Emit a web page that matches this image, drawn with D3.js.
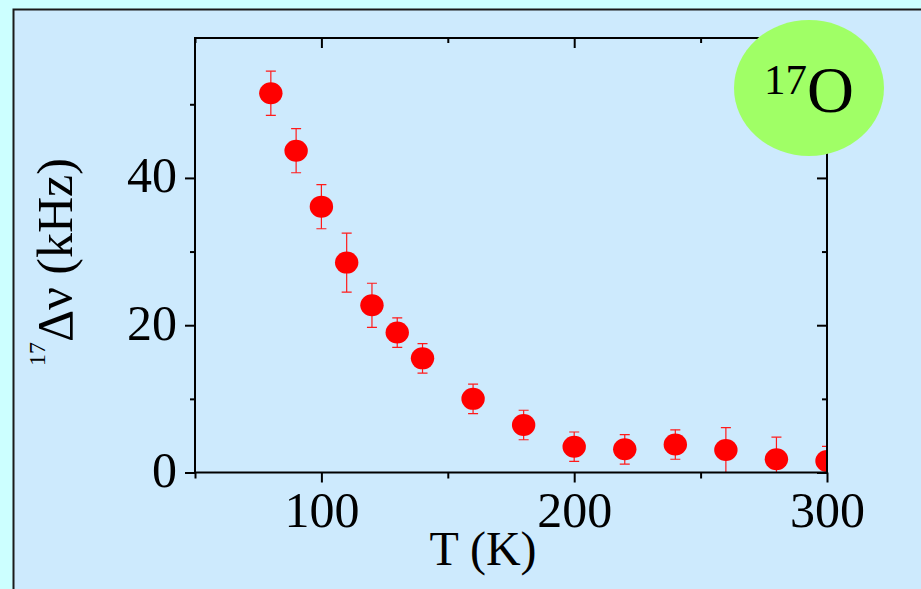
<!DOCTYPE html>
<html>
<head>
<meta charset="utf-8">
<script src="https://cdn.jsdelivr.net/npm/d3@7/dist/d3.min.js"></script>
<style>
  html, body { margin: 0; padding: 0; background: #ccffff; }
  svg { display: block; }
  text { font-family: "Liberation Serif", "Times New Roman", serif; fill: #000; }
</style>
</head>
<body>
<svg id="chart" width="921" height="589"></svg>
<script>
// 17O NMR line width versus temperature
const temperatures = [80, 90, 100, 110, 120, 130, 140, 160, 180, 200, 220, 240, 260, 280, 300];
const widths       = [51.5, 43.7, 36.1, 28.5, 22.7, 19.0, 15.5, 10.0, 6.45, 3.5, 3.15, 3.8, 3.05, 1.8, 1.55];
const errors       = [3.0, 3.0, 3.0, 4.0, 3.0, 2.0, 2.0, 2.0, 2.0, 2.0, 2.0, 2.0, 3.05, 3.0, 2.0];

const xMajorTicks = [100, 200, 300];
const xMinorTicks = [50, 150, 250];
const yMajorTicks = [0, 20, 40];
const yMinorTicks = [10, 30, 50];

const svg = d3.select("#chart");
const W = 921, H = 589;

// panel
svg.append("rect").attr("x", 0).attr("y", 0).attr("width", W).attr("height", H).attr("fill", "#ccffff");
svg.append("rect")
  .attr("x", 13.5).attr("y", 9.5).attr("width", W + 20).attr("height", H + 20)
  .attr("fill", "#cdeafd").attr("stroke", "#1a1a1a").attr("stroke-width", 2);

const plot = { left: 195, right: 827, top: 38, bottom: 472.5 };

const x = d3.scaleLinear().domain([50, 300]).range([plot.left, plot.right]);
const y = d3.scaleLinear().domain([0, 59]).range([plot.bottom, plot.top]);

const data = temperatures.map((t, i) => ({ t, v: widths[i], e: errors[i] }));

// clip marks to the frame
svg.append("clipPath").attr("id", "plotClip")
  .append("rect")
  .attr("x", plot.left).attr("y", plot.top)
  .attr("width", plot.right - plot.left).attr("height", plot.bottom - plot.top);

const marks = svg.append("g").attr("clip-path", "url(#plotClip)");

// error bars
const bars = marks.append("g").attr("stroke", "#ff1a1a").attr("stroke-width", 1.2).attr("fill", "none");
data.forEach(d => {
  const xp = x(d.t), y1 = y(d.v + d.e), y0 = y(Math.max(0, d.v - d.e));
  bars.append("line").attr("x1", xp).attr("x2", xp).attr("y1", y1).attr("y2", y0);
  bars.append("line").attr("x1", xp - 5).attr("x2", xp + 5).attr("y1", y1).attr("y2", y1);
  if (d.v - d.e >= 0) {
    bars.append("line").attr("x1", xp - 5).attr("x2", xp + 5).attr("y1", y0).attr("y2", y0);
  }
});

// markers
marks.append("g").selectAll("ellipse").data(data).join("ellipse")
  .attr("cx", d => x(d.t)).attr("cy", d => y(d.v))
  .attr("rx", 11.7).attr("ry", 11)
  .attr("fill", "#ff0000");

// axes
const axisG = svg.append("g").attr("stroke", "#000").attr("stroke-width", 2);
axisG.append("rect")
  .attr("x", plot.left).attr("y", plot.top)
  .attr("width", plot.right - plot.left).attr("height", plot.bottom - plot.top)
  .attr("fill", "none");

const bottomAxis = d3.axisBottom(x).tickValues(xMajorTicks).tickSize(10).tickFormat(d3.format("d"));
const bottomMinor = d3.axisBottom(x).tickValues(xMinorTicks).tickSize(6).tickFormat("");
const topMajor = d3.axisTop(x).tickValues(xMajorTicks).tickSize(-10).tickFormat("");
const topMinor = d3.axisTop(x).tickValues(xMinorTicks).tickSize(-5).tickFormat("");
const leftAxis = d3.axisLeft(y).tickValues(yMajorTicks).tickSize(10).tickFormat(d3.format("d"));
const leftMinor = d3.axisLeft(y).tickValues(yMinorTicks).tickSize(5).tickFormat("");
const rightMajor = d3.axisRight(y).tickValues(yMajorTicks).tickSize(-10).tickFormat("");
const rightMinor = d3.axisRight(y).tickValues(yMinorTicks).tickSize(-5).tickFormat("");

function styleAxis(g) {
  g.select(".domain").remove();
  g.selectAll(".tick line").attr("stroke", "#000").attr("stroke-width", 2);
  g.selectAll(".tick text").attr("font-family", "Liberation Serif, serif").attr("font-size", 50).attr("fill", "#000");
}

svg.append("g").attr("transform", `translate(0,${plot.bottom})`).call(bottomAxis).call(styleAxis)
  .selectAll(".tick text").attr("y", 19).attr("dy", "0.71em");
svg.append("g").attr("transform", `translate(0,${plot.bottom})`).call(bottomMinor).call(styleAxis);
svg.append("g").attr("transform", `translate(0,${plot.top})`).call(topMajor).call(styleAxis);
svg.append("g").attr("transform", `translate(0,${plot.top})`).call(topMinor).call(styleAxis);
svg.append("g").attr("transform", `translate(${plot.left},0)`).call(leftAxis).call(styleAxis)
  .selectAll(".tick text").attr("x", -18).attr("dy", "0.28em");
svg.append("g").attr("transform", `translate(${plot.left},0)`).call(leftMinor).call(styleAxis);
svg.append("g").attr("transform", `translate(${plot.right},0)`).call(rightMajor).call(styleAxis);
svg.append("g").attr("transform", `translate(${plot.right},0)`).call(rightMinor).call(styleAxis);

// axis titles
svg.append("text")
  .attr("x", 483).attr("y", 565)
  .attr("text-anchor", "middle")
  .attr("font-size", 48)
  .text("T (K)");

const yTitle = svg.append("text")
  .attr("transform", "translate(72,262) rotate(-90)")
  .attr("text-anchor", "middle")
  .attr("font-size", 50);
yTitle.append("tspan").attr("font-size", 24).attr("dy", -27).text("17");
yTitle.append("tspan").attr("dy", 27).text("\u0394\u03BD (kHz)");

// nucleus badge
svg.append("ellipse")
  .attr("cx", 809).attr("cy", 88).attr("rx", 75).attr("ry", 68)
  .attr("fill", "#a0ff66");
const badge = svg.append("text").attr("x", 764).attr("y", 112);
badge.append("tspan").attr("font-size", 43).attr("dy", -18).text("17");
badge.append("tspan").attr("font-size", 65).attr("dy", 18).text("O");
</script>
</body>
</html>
